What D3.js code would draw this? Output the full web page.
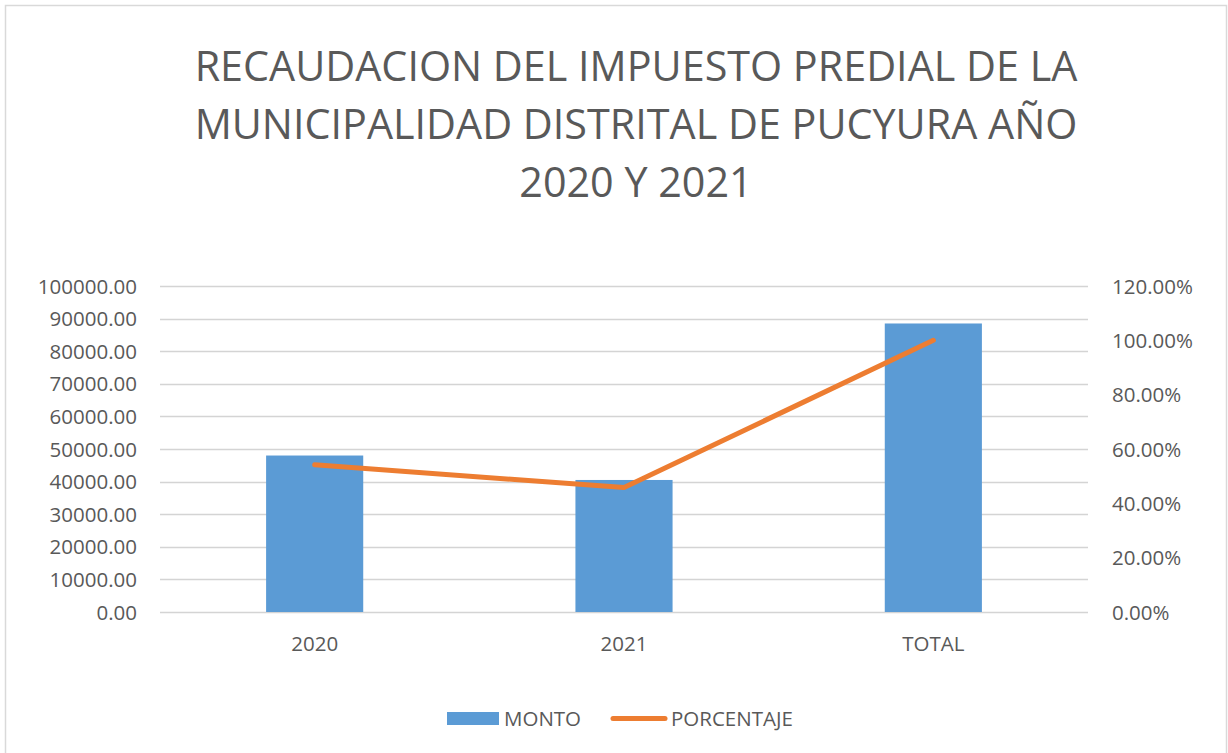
<!DOCTYPE html>
<html>
<head>
<meta charset="utf-8">
<script src="https://cdn.jsdelivr.net/npm/d3@7"></script>
<style>
  body { margin: 0; background: #fff; }
  text { font-family: "Open Sans", sans-serif; fill: #595959; }
</style>
</head>
<body>
<div id="chart"></div>
<script>
const CATEGORIES = ['2020', '2021', 'TOTAL'];
const MONTO = [48000, 40500, 88500];
const PORCENTAJE = [0.542, 0.458, 1.0];
const LEFT_TICKS = [0, 10000, 20000, 30000, 40000, 50000, 60000, 70000, 80000, 90000, 100000];
const RIGHT_TICKS = [0, 0.2, 0.4, 0.6, 0.8, 1.0, 1.2];
const TITLE = ['RECAUDACION DEL IMPUESTO PREDIAL DE LA', 'MUNICIPALIDAD DISTRITAL DE PUCYURA AÑO', '2020 Y 2021'];

const width = 1228, height = 753;
const plot = { left: 160, right: 1088, top: 286, bottom: 612 };
const fs = 20.5;

const svg = d3.select('#chart').append('svg')
  .attr('width', width)
  .attr('height', height);

svg.append('rect')
  .attr('x', 5.5).attr('y', 5.5)
  .attr('width', 1221).attr('height', 770)
  .attr('fill', '#fff')
  .attr('stroke', '#d9d9d9')
  .attr('stroke-width', 1.5);

// title
svg.append('g').selectAll('text')
  .data(TITLE)
  .enter().append('text')
  .attr('x', 636)
  .attr('y', (d, i) => 81 + i * 58)
  .attr('text-anchor', 'middle')
  .attr('font-size', 41.3)
  .text(d => d);

const x = d3.scaleBand()
  .domain(CATEGORIES)
  .range([plot.left, plot.right])
  .paddingInner(0.686)
  .paddingOuter(0.343);

const yLeft = d3.scaleLinear().domain([0, 100000]).range([plot.bottom, plot.top]);
const yRight = d3.scaleLinear().domain([0, 1.2]).range([plot.bottom, plot.top]);

// gridlines
svg.append('g').selectAll('line')
  .data(LEFT_TICKS)
  .enter().append('line')
  .attr('x1', plot.left).attr('x2', plot.right)
  .attr('y1', d => Math.round(yLeft(d)) + 0.5)
  .attr('y2', d => Math.round(yLeft(d)) + 0.5)
  .attr('stroke', '#d4d4d4')
  .attr('stroke-width', 1.5);

// left axis
const leftAxis = svg.append('g')
  .attr('transform', 'translate(' + (plot.left - 23) + ',0)')
  .call(d3.axisLeft(yLeft).tickValues(LEFT_TICKS).tickFormat(d => d.toFixed(2)).tickSize(0).tickPadding(0));
leftAxis.select('.domain').remove();
leftAxis.selectAll('text').attr('font-size', fs).attr('fill', '#595959').attr('dy', '0.35em')
  .style('font-family', '"Open Sans", sans-serif');

// right axis
const rightAxis = svg.append('g')
  .attr('transform', 'translate(' + 1112 + ',0)')
  .call(d3.axisRight(yRight).tickValues(RIGHT_TICKS).tickFormat(d => (d * 100).toFixed(2) + '%').tickSize(0).tickPadding(0));
rightAxis.select('.domain').remove();
rightAxis.selectAll('text').attr('font-size', fs).attr('fill', '#595959').attr('dy', '0.35em')
  .style('font-family', '"Open Sans", sans-serif');

// bars
svg.append('g').selectAll('rect')
  .data(MONTO)
  .enter().append('rect')
  .attr('x', (d, i) => x(CATEGORIES[i]))
  .attr('y', d => yLeft(d))
  .attr('width', x.bandwidth())
  .attr('height', d => plot.bottom - yLeft(d))
  .attr('fill', '#5b9bd5');

// x labels
svg.append('g').selectAll('text')
  .data(CATEGORIES)
  .enter().append('text')
  .attr('x', d => x(d) + x.bandwidth() / 2)
  .attr('y', 651)
  .attr('text-anchor', 'middle')
  .attr('font-size', fs)
  .text(d => d);

// line
const line = d3.line()
  .x((d, i) => x(CATEGORIES[i]) + x.bandwidth() / 2)
  .y(d => yRight(d));

svg.append('path')
  .datum(PORCENTAJE)
  .attr('d', line)
  .attr('fill', 'none')
  .attr('stroke', '#ed7d31')
  .attr('stroke-width', 5)
  .attr('stroke-linecap', 'round')
  .attr('stroke-linejoin', 'round');

// legend
const legend = svg.append('g');
legend.append('rect')
  .attr('x', 447).attr('y', 712)
  .attr('width', 52).attr('height', 13)
  .attr('fill', '#5b9bd5');
legend.append('text')
  .attr('x', 504).attr('y', 725.5)
  .attr('font-size', fs)
  .text('MONTO');
legend.append('line')
  .attr('x1', 613).attr('x2', 665)
  .attr('y1', 718.5).attr('y2', 718.5)
  .attr('stroke', '#ed7d31')
  .attr('stroke-width', 5)
  .attr('stroke-linecap', 'round');
legend.append('text')
  .attr('x', 671).attr('y', 725.5)
  .attr('font-size', fs)
  .text('PORCENTAJE');
</script>
</body>
</html>
